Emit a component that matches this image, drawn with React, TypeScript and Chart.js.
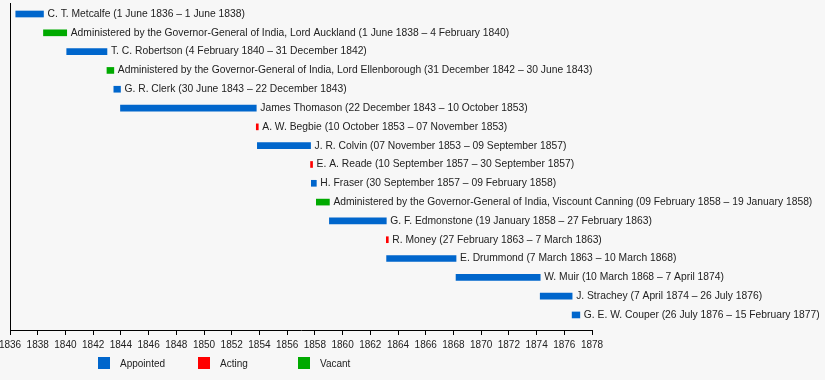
import React, { useEffect, useRef } from "react";
import { Chart, registerables } from "chart.js";

Chart.register(...registerables);

const names: string[] = [
  "C. T. Metcalfe (1 June 1836 – 1 June 1838)",
  "Administered by the Governor-General of India, Lord Auckland (1 June 1838 – 4 February 1840)",
  "T. C. Robertson (4 February 1840 – 31 December 1842)",
  "Administered by the Governor-General of India, Lord Ellenborough (31 December 1842 – 30 June 1843)",
  "G. R. Clerk (30 June 1843 – 22 December 1843)",
  "James Thomason (22 December 1843 – 10 October 1853)",
  "A. W. Begbie (10 October 1853 – 07 November 1853)",
  "J. R. Colvin (07 November 1853 – 09 September 1857)",
  "E. A. Reade (10 September 1857 – 30 September 1857)",
  "H. Fraser (30 September 1857 – 09 February 1858)",
  "Administered by the Governor-General of India, Viscount Canning (09 February 1858 – 19 January 1858)",
  "G. F. Edmonstone (19 January 1858 – 27 February 1863)",
  "R. Money (27 February 1863 – 7 March 1863)",
  "E. Drummond (7 March 1863 – 10 March 1868)",
  "W. Muir (10 March 1868 – 7 April 1874)",
  "J. Strachey (7 April 1874 – 26 July 1876)",
  "G. E. W. Couper (26 July 1876 – 15 February 1877)",
];

const starts: number[] = [
  1836.416, 1838.416, 1840.093, 1842.997, 1843.493, 1843.973, 1853.773, 1853.85,
  1857.69, 1857.745, 1858.107, 1859.05, 1863.156, 1863.178, 1868.189, 1874.263, 1876.566,
];
const ends: number[] = [
  1838.416, 1840.093, 1842.997, 1843.493, 1843.973, 1853.773, 1853.85, 1857.69,
  1857.745, 1858.107, 1859.05, 1863.156, 1863.178, 1868.189, 1874.263, 1876.566, 1877.123,
];
// 0 = Appointed, 1 = Acting, 2 = Vacant
const kinds: number[] = [0, 2, 0, 2, 0, 0, 1, 0, 1, 0, 2, 0, 1, 0, 0, 0, 0];

const legendLabels: string[] = ["Appointed", "Acting", "Vacant"];
const kindColors: string[] = ["#0066cc", "#ff0000", "#00aa00"];

const yearMin = 1836;
const yearMax = 1878;
const yearStep = 2;

const FONT = '"Liberation Sans", Arial, Helvetica, sans-serif';
const TEXT_COLOR = "#222222";

export default function App() {
  const canvasRef = useRef<HTMLCanvasElement | null>(null);

  useEffect(() => {
    const canvas = canvasRef.current;
    if (!canvas) return;

    const bgPlugin = {
      id: "bg",
      beforeDraw(chart: any) {
        const ctx = chart.ctx;
        ctx.save();
        ctx.fillStyle = "#f7f7f7";
        ctx.fillRect(0, 0, chart.width, chart.height);
        ctx.restore();
      },
    };

    const labelPlugin = {
      id: "barLabels",
      afterDatasetsDraw(chart: any) {
        const ctx = chart.ctx;
        const meta = chart.getDatasetMeta(0);
        ctx.save();
        ctx.font = `10.3px ${FONT}`;
        ctx.fillStyle = TEXT_COLOR;
        ctx.textBaseline = "middle";
        ctx.textAlign = "left";
        meta.data.forEach((el: any, i: number) => {
          const right = Math.max(el.x, el.base);
          ctx.fillText(names[i], Math.max(right, el.base + 2) + 4, el.y);
        });
        // vertical axis line
        const a = chart.chartArea;
        ctx.strokeStyle = "#000";
        ctx.lineWidth = 1;
        ctx.beginPath();
        ctx.moveTo(Math.round(a.left) + 0.5, a.top);
        ctx.lineTo(Math.round(a.left) + 0.5, a.bottom);
        ctx.stroke();
        ctx.restore();
      },
    };

    const legendPlugin = {
      id: "customLegend",
      afterDraw(chart: any) {
        const ctx = chart.ctx;
        const a = chart.chartArea;
        const y = a.bottom + 27;
        ctx.save();
        ctx.font = `10px ${FONT}`;
        ctx.textBaseline = "middle";
        ctx.textAlign = "left";
        legendLabels.forEach((lab, i) => {
          const x = 98 + i * 100;
          ctx.fillStyle = kindColors[i];
          ctx.fillRect(x, y, 12, 12);
          ctx.fillStyle = TEXT_COLOR;
          ctx.fillText(lab, x + 22, y + 7.5);
        });
        ctx.restore();
      },
    };

    const data = names.map((_, i) => ({ x: [starts[i], ends[i]], y: i }));

    const chart = new Chart(canvas, {
      type: "bar",
      data: {
        datasets: [
          {
            data: data as any,
            backgroundColor: kinds.map((k) => kindColors[k]),
            borderWidth: 0,
            barThickness: 6,
            minBarLength: 2,
          },
        ],
      },
      options: {
        indexAxis: "y",
        responsive: false,
        animation: false,
        events: [],
        layout: { padding: { left: 10, right: 233, top: 3, bottom: 0 } },
        plugins: { legend: { display: false }, tooltip: { enabled: false } },
        scales: {
          x: {
            type: "linear",
            min: yearMin,
            max: yearMax,
            bounds: "data",
            position: "bottom",
            offset: false,
            grid: {
              drawOnChartArea: false,
              drawTicks: true,
              tickLength: 5,
              color: "#000",
            },
            border: { display: true, color: "#000", width: 1 },
            ticks: {
              stepSize: yearStep,
              autoSkip: false,
              maxRotation: 0,
              color: TEXT_COLOR,
              font: { size: 10, family: FONT },
              padding: 4,
              callback: (v: any) => String(v),
            },
            afterFit(scale: any) {
              scale.height = 50;
              scale.paddingLeft = 0;
              scale.paddingRight = 0;
            },
          },
          y: {
            type: "linear",
            display: false,
            reverse: true,
            bounds: "data",
            offset: false,
            min: -0.585,
            max: 16.8,
          },
        },
      } as any,
      plugins: [bgPlugin, labelPlugin, legendPlugin],
    });

    return () => chart.destroy();
  }, []);

  return (
    <div style={{ position: "absolute", left: 0, top: 0, width: 825, height: 380 }}>
      <canvas ref={canvasRef} width={825} height={380} style={{ display: "block" }} />
    </div>
  );
}
